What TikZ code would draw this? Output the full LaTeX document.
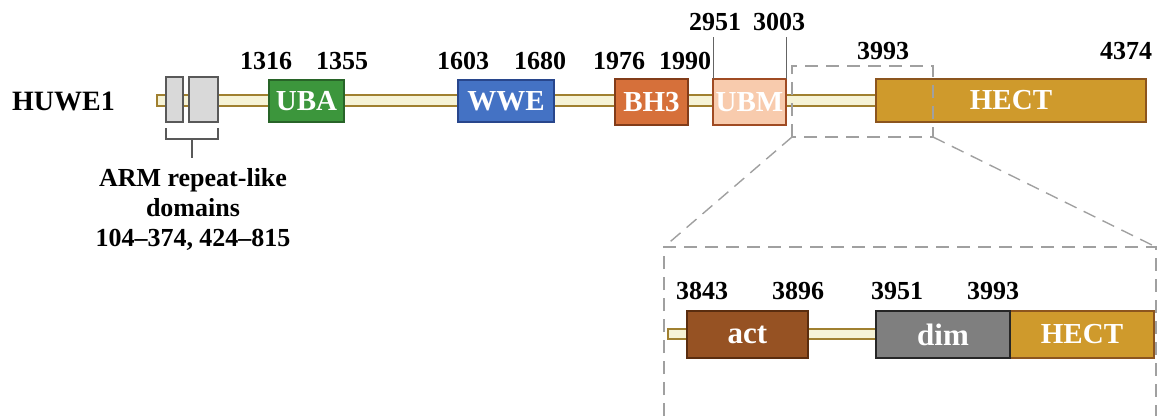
\documentclass[tikz,border=0pt]{standalone}
\usepackage{fontspec}
\setmainfont{Liberation Serif}
\begin{document}
\begin{tikzpicture}[x=1pt,y=-1pt,
  bar/.style={draw=barline,fill=barfill,line width=1.8pt},
  dom/.style={rectangle,line width=2.2pt,inner sep=0pt,outer sep=0pt,anchor=north west,
    text=white,font=\fontsize{29}{31}\selectfont\bfseries},
  num/.style={font=\fontsize{26}{28}\selectfont\bfseries,inner sep=0pt,anchor=base},
  zoomline/.style={draw=dashgray,line width=1.4pt,dash pattern=on 13pt off 8pt},
  tick/.style={draw=tickgray,line width=1pt}]
\definecolor{barline}{RGB}{160,128,48}
\definecolor{barfill}{RGB}{246,243,214}
\definecolor{armfill}{RGB}{217,217,217}
\definecolor{armline}{RGB}{89,89,89}
\definecolor{ubafill}{RGB}{60,150,60}
\definecolor{ubaline}{RGB}{40,100,40}
\definecolor{wwefill}{RGB}{68,114,196}
\definecolor{wweline}{RGB}{40,70,140}
\definecolor{bhfill}{RGB}{214,112,58}
\definecolor{bhline}{RGB}{130,60,25}
\definecolor{ubmfill}{RGB}{248,203,173}
\definecolor{ubmline}{RGB}{160,75,35}
\definecolor{hectfill}{RGB}{207,154,44}
\definecolor{hectline}{RGB}{140,85,30}
\definecolor{actfill}{RGB}{150,82,35}
\definecolor{actline}{RGB}{90,45,15}
\definecolor{dimfill}{RGB}{127,127,127}
\definecolor{dimline}{RGB}{38,38,38}
\definecolor{dashgray}{RGB}{160,160,160}
\definecolor{tickgray}{RGB}{100,100,100}
\useasboundingbox (0,0) rectangle (1166,416);
\fill[white] (0,0) rectangle (1166,416);

% main bar
\draw[bar] (157,95) rectangle (876,106);
\node[anchor=west,font=\fontsize{28}{30}\selectfont\bfseries,inner sep=0pt] (huwe) at (12,101) {HUWE1};

% ARM boxes
\node[dom,draw=armline,fill=armfill,line width=1.8pt,minimum width=17pt,minimum height=45pt] (arm1) at (166,77) {};
\node[dom,draw=armline,fill=armfill,line width=1.8pt,minimum width=29pt,minimum height=45pt] (arm2) at (189,77) {};
\draw[draw=armline,line width=1.4pt] (166,128) -- (166,139) -- (218,139) -- (218,128);
\coordinate (bc) at (192,139);
\coordinate (bt) at (192,158);
\draw[draw=armline,line width=1.4pt] (bc) -- (bt);
\node[align=center,font=\fontsize{26}{30}\selectfont\bfseries,anchor=north,inner sep=0pt] (armtxt) at (193,168)
  {ARM repeat-like\\domains\\104--374, 424--815};

% domains
\node[dom,draw=ubaline,fill=ubafill,minimum width=75pt,minimum height=42pt] (uba) at (269,80) {UBA};
\node[dom,draw=wweline,fill=wwefill,minimum width=96pt,minimum height=42pt] (wwe) at (458,80) {WWE};
\node[dom,draw=bhline,fill=bhfill,minimum width=73pt,minimum height=46pt] (bh3) at (615,79) {BH3};
\node[dom,draw=ubmline,fill=ubmfill,minimum width=73pt,minimum height=46pt] (ubm) at (713,79) {UBM};
\node[dom,draw=hectline,fill=hectfill,minimum width=270pt,minimum height=43pt] (hect) at (876,79) {HECT};

% UBM ticks
\coordinate (u1) at (713,37);
\coordinate (u2) at (786,37);
\draw[tick] (u1) -- (ubm.north west);
\draw[tick] (u2) -- (ubm.north east);

% numbers
\node[num] (n1316) at (266,69) {1316};
\node[num] (n1355) at (342,69) {1355};
\node[num] (n1603) at (463,69) {1603};
\node[num] (n1680) at (540,69) {1680};
\node[num] (n1976) at (619,69) {1976};
\node[num] (n1990) at (685,69) {1990};
\node[num] (n2951) at (715,30) {2951};
\node[num] (n3003) at (779,30) {3003};
\node[num] (n3993) at (883,59) {3993};
\node[num] (n4374) at (1126,59) {4374};

% zoom region
\coordinate (za) at (792,66);
\coordinate (zb) at (933,66);
\coordinate (zc) at (933,137);
\coordinate (zd) at (792,137);
\draw[zoomline] (zd) -- (za) -- (zb) -- (zc) -- cycle;
\coordinate (Za) at (664,247);
\coordinate (Zb) at (1156,247);
\coordinate (Zc) at (1156,416);
\coordinate (Zd) at (664,416);
\draw[zoomline] (Zd) -- (Za) -- (Zb) -- (Zc);
\draw[zoomline] (zd) -- (Za);
\draw[zoomline] (zc) -- (Zb);

% zoomed bar
\draw[bar] (668,329) rectangle (876,339);
\node[dom,draw=actline,fill=actfill,minimum width=121pt,minimum height=47pt,font=\fontsize{31}{33}\selectfont\bfseries] (act) at (687,311) {act};
\node[dom,draw=hectline,fill=hectfill,minimum width=144pt,minimum height=47pt] (hect2) at (1010,311) {HECT};
\node[dom,draw=dimline,fill=dimfill,minimum width=134pt,minimum height=47pt,font=\fontsize{31}{33}\selectfont\bfseries] (dim) at (876,311) {dim};

\node[num] (n3843) at (702,299) {3843};
\node[num] (n3896) at (798,299) {3896};
\node[num] (n3951) at (897,299) {3951};
\node[num] (n3993b) at (993,299) {3993};
\end{tikzpicture}
\end{document}
